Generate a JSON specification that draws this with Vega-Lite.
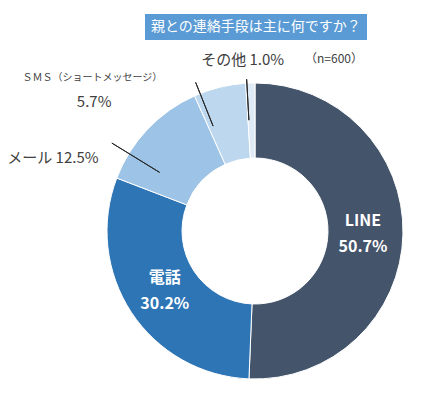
{
  "$schema": "https://vega.github.io/schema/vega-lite/v6.json",
  "width": 350,
  "height": 336,
  "autosize": {"type": "none"},
  "padding": {"left": 80, "top": 63, "right": 0, "bottom": 0},
  "background": "white",
  "config": {"view": {"stroke": null}, "font": "Noto Sans CJK JP"},
  "title": {
    "text": "（n=600）",
    "anchor": "end",
    "orient": "top",
    "fontSize": 12,
    "fontWeight": "normal",
    "color": "#404040",
    "dx": -67,
    "dy": 52,
    "offset": 0
  },
  "data": {
    "values": [
      {"cat": "LINE", "pct": 50.7, "ord": 1, "label": "LINE\n50.7%"},
      {"cat": "電話", "pct": 30.2, "ord": 2, "label": "電話\n30.2%"},
      {"cat": "メール", "pct": 12.5, "ord": 3, "label": "メール 12.5%"},
      {"cat": "ＳＭＳ（ショートメッセージ）", "pct": 5.7, "ord": 4, "label": "5.7%"},
      {"cat": "その他", "pct": 1.0, "ord": 5, "label": "その他 1.0%"}
    ]
  },
  "encoding": {
    "theta": {"field": "pct", "type": "quantitative", "stack": true},
    "order": {"field": "ord", "type": "quantitative"}
  },
  "layer": [
    {
      "mark": {"type": "arc", "innerRadius": 73, "outerRadius": 148, "stroke": "white", "strokeWidth": 1},
      "encoding": {
        "color": {
          "field": "cat",
          "type": "nominal",
          "scale": {
            "domain": ["LINE", "電話", "メール", "ＳＭＳ（ショートメッセージ）", "その他"],
            "range": ["#44546A", "#2E75B6", "#9DC3E6", "#BDD7EE", "#DEEBF7"]
          },
          "legend": {
            "title": "親との連絡手段は主に何ですか？",
            "values": [],
            "orient": "none",
            "legendX": 65,
            "legendY": -49,
            "fillColor": "#5B9BD5",
            "strokeColor": null,
            "padding": 6,
            "titleColor": "white",
            "titleFontSize": 14,
            "titleFontWeight": "normal",
            "titlePadding": 0,
            "titleLimit": 400
          }
        }
      }
    },
    {
      "mark": {"type": "text", "radius": 108, "dy": -12, "fontSize": 16, "fontWeight": "bold", "color": "white", "lineBreak": "\n", "lineHeight": 26, "align": "center", "baseline": "middle"},
      "encoding": {"text": {"condition": {"test": "datum.ord <= 2", "field": "label"}, "value": ""}}
    },
    {
      "mark": {"type": "text", "radius": 171, "dx": -7, "fontSize": 15, "color": "#404040", "align": "center", "baseline": "middle"},
      "encoding": {"text": {"condition": {"test": "datum.ord == 5", "field": "label"}, "value": ""}}
    },
    {
      "mark": {"type": "text", "radius": 133, "dx": -129, "fontSize": 15, "color": "#404040", "align": "center", "baseline": "middle"},
      "encoding": {"text": {"condition": {"test": "datum.ord == 4", "field": "label"}, "value": ""}}
    },
    {
      "mark": {"type": "text", "radius": 157.6, "dx": -125, "fontSize": 10, "color": "#404040", "align": "center", "baseline": "middle"},
      "encoding": {"text": {"condition": {"test": "datum.ord == 4", "field": "cat"}, "value": ""}}
    },
    {
      "mark": {"type": "text", "radius": 106.2, "dx": -125, "fontSize": 15, "color": "#404040", "align": "center", "baseline": "middle"},
      "encoding": {"text": {"condition": {"test": "datum.ord == 3", "field": "label"}, "value": ""}}
    },
    {
      "transform": [{"filter": "datum.ord == 5"}],
      "mark": {"type": "arc", "theta": -0.055, "theta2": -0.0549, "radius": 111, "radius2": 152, "stroke": "#262626", "strokeWidth": 1, "fill": null},
      "encoding": {"theta": null, "order": null}
    },
    {
      "transform": [{"filter": "datum.ord == 4"}],
      "mark": {"type": "arc", "theta": -0.38, "theta2": -0.3799, "radius": 113, "radius2": 160, "stroke": "#262626", "strokeWidth": 1, "fill": null},
      "encoding": {"theta": null, "order": null}
    },
    {
      "transform": [{"filter": "datum.ord == 3"}],
      "mark": {"type": "arc", "theta": -1.02, "theta2": -1.0199, "radius": 112, "radius2": 168, "stroke": "#262626", "strokeWidth": 1, "fill": null},
      "encoding": {"theta": null, "order": null}
    }
  ]
}
